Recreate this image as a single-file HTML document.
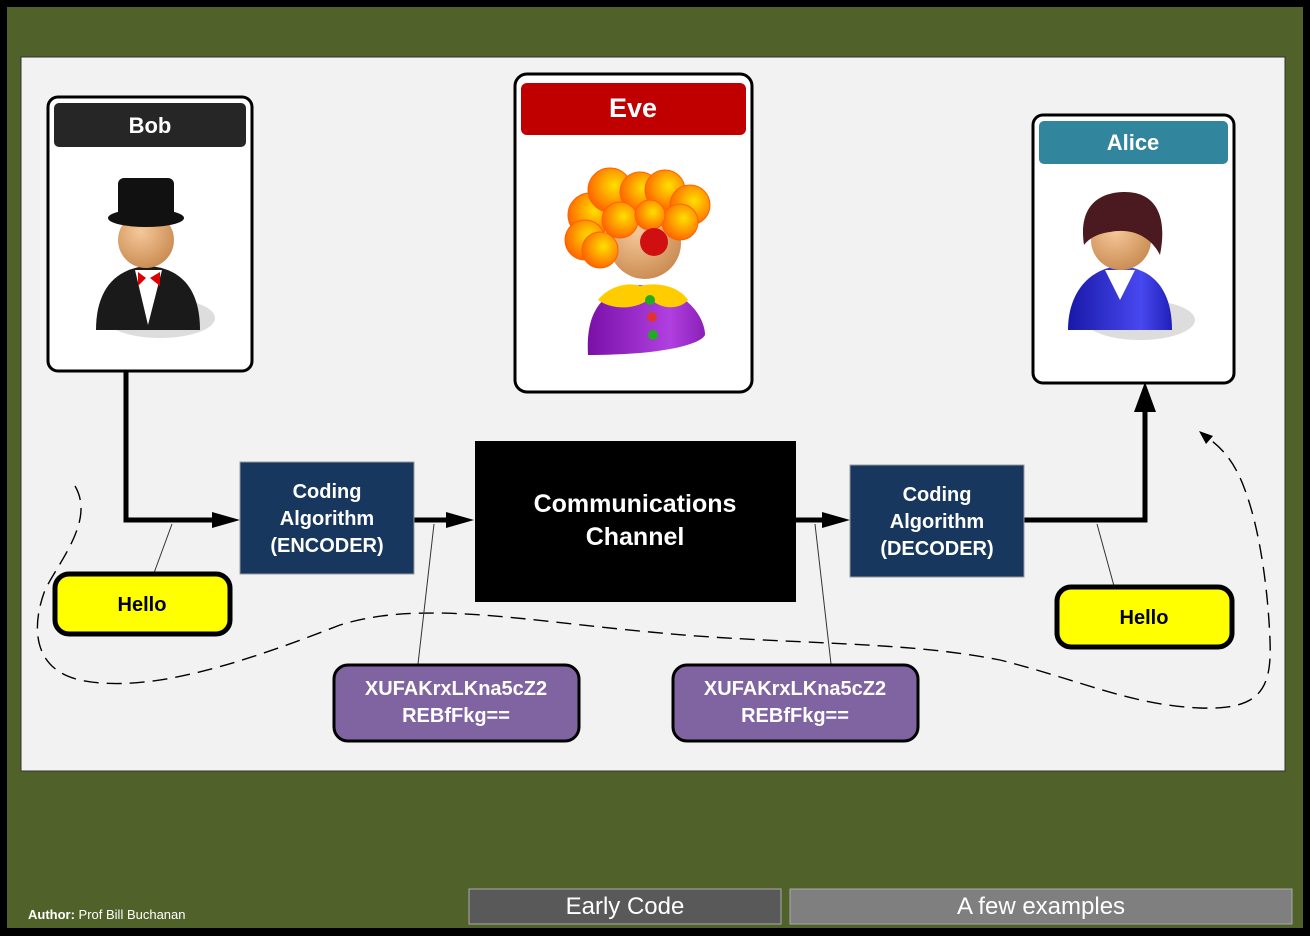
<!DOCTYPE html>
<html><head><meta charset="utf-8"><style>
html,body{margin:0;padding:0;background:#fff}
svg{display:block}
text{font-family:"Liberation Sans",sans-serif;font-weight:bold}
</style></head><body>
<svg width="1310" height="936" viewBox="0 0 1310 936" xmlns="http://www.w3.org/2000/svg">
<defs>
<radialGradient id="hair" cx="0.6" cy="0.4" r="0.6"><stop offset="0" stop-color="#ffe000"/><stop offset="1" stop-color="#ff6a00"/></radialGradient>
<radialGradient id="skin" cx="0.4" cy="0.35" r="0.7"><stop offset="0" stop-color="#f5c89a"/><stop offset="1" stop-color="#c98a50"/></radialGradient>
<linearGradient id="purp" x1="0" x2="1"><stop offset="0" stop-color="#7a10a8"/><stop offset="0.7" stop-color="#b040e0"/><stop offset="1" stop-color="#8a20b8"/></linearGradient>
<linearGradient id="blue" x1="0" x2="1"><stop offset="0" stop-color="#1818a8"/><stop offset="0.7" stop-color="#4848f0"/><stop offset="1" stop-color="#2020b8"/></linearGradient>
</defs>
<rect x="0" y="0" width="1310" height="936" fill="#000"/>
<rect x="7" y="7" width="1296" height="921" fill="#506129"/>
<rect x="21" y="57" width="1264" height="714" fill="#f2f2f2" stroke="#333" stroke-width="1"/>

<!-- dashed loop -->
<path d="M75,486 C95,520 60,560 45,590 C30,630 35,670 80,680 C150,695 250,660 340,625 C420,600 520,620 650,632 C780,645 900,640 1000,660 C1080,680 1130,705 1200,708 C1260,710 1272,690 1270,640 C1268,590 1260,530 1245,490 C1235,462 1222,448 1208,438" fill="none" stroke="#000" stroke-width="1.4" stroke-dasharray="15,8"/>
<path d="M1199,431 L1213,436 L1206,444 Z" fill="#000"/>

<!-- connectors -->
<polyline points="126,372 126,520 222,520" fill="none" stroke="#000" stroke-width="5"/>
<path d="M212,512 L240,520 L212,528 Z" fill="#000"/>
<line x1="414" y1="520" x2="452" y2="520" stroke="#000" stroke-width="5"/>
<path d="M446,512 L474,520 L446,528 Z" fill="#000"/>
<line x1="796" y1="520" x2="828" y2="520" stroke="#000" stroke-width="5"/>
<path d="M822,512 L850,520 L822,528 Z" fill="#000"/>
<polyline points="1024,520 1145,520 1145,410" fill="none" stroke="#000" stroke-width="5"/>
<path d="M1134,412 L1145,382 L1156,412 Z" fill="#000"/>
<line x1="172" y1="524" x2="154" y2="573" stroke="#333" stroke-width="1"/>
<line x1="434" y1="524" x2="418" y2="664" stroke="#333" stroke-width="1"/>
<line x1="815" y1="524" x2="831" y2="664" stroke="#333" stroke-width="1"/>
<line x1="1097" y1="524" x2="1114" y2="586" stroke="#333" stroke-width="1"/>

<!-- Bob card -->
<rect x="48" y="97" width="204" height="274" rx="10" fill="#fff" stroke="#000" stroke-width="3"/>
<rect x="54" y="103" width="192" height="44" rx="5" fill="#262626"/>
<text x="150" y="133" font-size="22" fill="#fff" text-anchor="middle">Bob</text>
<g>
<ellipse cx="160" cy="318" rx="55" ry="20" fill="#ddd"/>
<path d="M96,330 C96,290 115,268 148,266 C182,268 200,290 200,330 Z" fill="#1a1a1a"/>
<path d="M135,270 L148,325 L162,270 Z" fill="#fff"/>
<path d="M146,278 L138,272 L138,286 Z M150,278 L160,272 L160,286 Z" fill="#d00"/>
<circle cx="146" cy="240" r="28" fill="url(#skin)"/>
<rect x="118" y="178" width="56" height="40" rx="6" fill="#111"/>
<ellipse cx="146" cy="218" rx="38" ry="9" fill="#111"/>
</g>

<!-- Eve card -->
<rect x="515" y="74" width="237" height="318" rx="12" fill="#fff" stroke="#000" stroke-width="3"/>
<rect x="521" y="83" width="225" height="52" rx="6" fill="#c00000"/>
<text x="633" y="117" font-size="27" fill="#fff" text-anchor="middle">Eve</text>
<g>
<path d="M588,355 C586,320 595,290 640,285 C690,288 705,320 705,335 C700,345 660,355 588,355 Z" fill="url(#purp)"/>
<path d="M598,300 C610,285 630,282 640,286 C655,282 678,285 688,300 C680,310 660,310 650,298 C640,308 615,312 598,300 Z" fill="#ffcc00"/>
<circle cx="650" cy="300" r="5" fill="#2a2"/><circle cx="652" cy="317" r="5" fill="#d33"/><circle cx="653" cy="335" r="5" fill="#2a2"/>
<circle cx="645" cy="243" r="36" fill="url(#skin)"/>
<g fill="url(#hair)" stroke="#ff6000" stroke-width="1">
<circle cx="590" cy="215" r="22"/><circle cx="585" cy="240" r="20"/><circle cx="600" cy="250" r="18"/><circle cx="610" cy="190" r="22"/><circle cx="640" cy="192" r="20"/><circle cx="665" cy="190" r="20"/><circle cx="690" cy="205" r="20"/><circle cx="680" cy="222" r="18"/><circle cx="620" cy="220" r="18"/><circle cx="650" cy="215" r="15"/>
</g>
<circle cx="654" cy="242" r="14" fill="#d01010"/>
</g>

<!-- Alice card -->
<rect x="1033" y="115" width="201" height="268" rx="10" fill="#fff" stroke="#000" stroke-width="3"/>
<rect x="1039" y="121" width="189" height="43" rx="5" fill="#31859c"/>
<text x="1133" y="150" font-size="22" fill="#fff" text-anchor="middle">Alice</text>
<g>
<ellipse cx="1140" cy="320" rx="55" ry="20" fill="#ddd"/>
<path d="M1068,330 C1068,292 1090,268 1120,266 C1155,268 1172,292 1172,330 Z" fill="url(#blue)"/>
<path d="M1105,270 L1120,300 L1135,270 Z" fill="#fff"/>
<circle cx="1121" cy="240" r="30" fill="url(#skin)"/>
<path d="M1084,245 C1078,205 1100,192 1125,192 C1155,192 1168,215 1160,255 C1150,235 1130,228 1110,232 C1095,234 1088,240 1084,245 Z" fill="#4a1a20"/>
</g>

<!-- coding boxes -->
<rect x="240" y="462" width="174" height="112" fill="#17375e" stroke="#999" stroke-width="1"/>
<text font-size="20" fill="#fff" text-anchor="middle"><tspan x="327" y="498">Coding</tspan><tspan x="327" y="525">Algorithm</tspan><tspan x="327" y="552">(ENCODER)</tspan></text>
<rect x="475" y="441" width="321" height="161" fill="#000"/>
<text font-size="25" fill="#fff" text-anchor="middle"><tspan x="635" y="512">Communications</tspan><tspan x="635" y="545">Channel</tspan></text>
<rect x="850" y="465" width="174" height="112" fill="#17375e" stroke="#999" stroke-width="1"/>
<text font-size="20" fill="#fff" text-anchor="middle"><tspan x="937" y="501">Coding</tspan><tspan x="937" y="528">Algorithm</tspan><tspan x="937" y="555">(DECODER)</tspan></text>

<!-- Hello boxes -->
<rect x="55" y="574" width="175" height="60" rx="14" fill="#ffff00" stroke="#000" stroke-width="5"/>
<text x="142" y="611" font-size="20" fill="#000" text-anchor="middle">Hello</text>
<rect x="1057" y="587" width="175" height="60" rx="14" fill="#ffff00" stroke="#000" stroke-width="5"/>
<text x="1144" y="624" font-size="20" fill="#000" text-anchor="middle">Hello</text>

<!-- cipher boxes -->
<rect x="334" y="665" width="245" height="76" rx="14" fill="#8064a2" stroke="#000" stroke-width="3"/>
<text font-size="20" fill="#fff" text-anchor="middle"><tspan x="456" y="695">XUFAKrxLKna5cZ2</tspan><tspan x="456" y="722">REBfFkg==</tspan></text>
<rect x="673" y="665" width="245" height="76" rx="14" fill="#8064a2" stroke="#000" stroke-width="3"/>
<text font-size="20" fill="#fff" text-anchor="middle"><tspan x="795" y="695">XUFAKrxLKna5cZ2</tspan><tspan x="795" y="722">REBfFkg==</tspan></text>

<!-- footer -->
<text x="28" y="919" font-size="13" fill="#fff">Author: <tspan style="font-weight:normal">Prof Bill Buchanan</tspan></text>
<rect x="469" y="889" width="312" height="35" fill="#595959" stroke="#aaa" stroke-width="1"/>
<text x="625" y="914" font-size="24" fill="#fff" text-anchor="middle" style="font-weight:normal">Early Code</text>
<rect x="790" y="889" width="502" height="35" fill="#7f7f7f" stroke="#aaa" stroke-width="1"/>
<text x="1041" y="914" font-size="24" fill="#fff" text-anchor="middle" style="font-weight:normal">A few examples</text>
</svg>
</body></html>
